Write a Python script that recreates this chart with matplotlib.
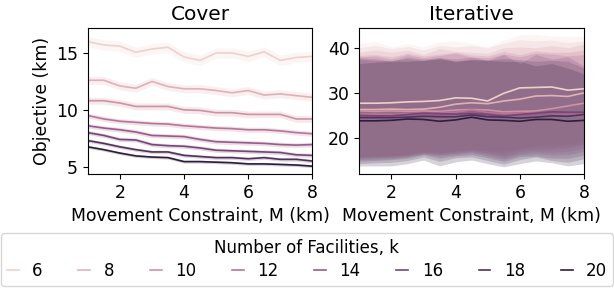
import numpy as np
import matplotlib
matplotlib.use('Agg')
import matplotlib.pyplot as plt

# data
M = [1.0, 1.5, 2.0, 2.5, 3.0, 3.5, 4.0, 4.5, 5.0, 5.5, 6.0, 6.5, 7.0, 7.5, 8.0]
K = [6, 8, 10, 12, 14, 16, 18, 20]

cover_mean = {
    6:  [16.0, 15.7, 15.6, 15.06, 15.35, 15.5, 14.65, 14.35, 15.0, 15.0, 14.7, 15.1, 14.35, 14.6, 14.7],
    8:  [12.6, 12.6, 12.1, 11.9, 12.5, 12.05, 11.85, 11.85, 11.7, 11.5, 11.7, 11.3, 11.4, 11.25, 11.1],
    10: [10.8, 10.8, 10.6, 10.3, 10.3, 10.3, 10.0, 9.95, 9.75, 9.75, 9.6, 9.6, 9.6, 9.2, 9.2],
    12: [9.5, 9.2, 9.0, 8.9, 8.8, 8.75, 8.6, 8.5, 8.4, 8.35, 8.25, 8.25, 8.15, 8.0, 7.9],
    14: [8.6, 8.4, 8.25, 8.05, 7.75, 7.7, 7.65, 7.4, 7.2, 7.15, 7.1, 7.05, 6.95, 6.9, 6.95],
    16: [8.0, 7.75, 7.4, 7.35, 6.95, 6.85, 6.8, 6.65, 6.45, 6.4, 6.35, 6.3, 6.25, 6.05, 6.0],
    18: [7.3, 7.05, 6.75, 6.5, 6.3, 6.3, 6.0, 5.9, 5.8, 5.8, 5.7, 5.8, 5.65, 5.65, 5.5],
    20: [6.75, 6.5, 6.2, 5.95, 5.85, 5.8, 5.45, 5.45, 5.4, 5.35, 5.25, 5.25, 5.2, 5.15, 5.05],
}
# half width of the confidence band, per k
cover_ci = {6: 0.45, 8: 0.35, 10: 0.3, 12: 0.22, 14: 0.2, 16: 0.18, 18: 0.15, 20: 0.13}

iter_mean = {
    6:  [27.7, 27.7, 27.8, 28.0, 28.1, 28.3, 28.9, 28.8, 28.2, 29.9, 31.1, 31.2, 31.3, 30.6, 30.9],
    8:  [26.3, 26.3, 26.4, 26.3, 26.4, 26.8, 27.5, 27.8, 27.6, 28.2, 28.6, 29.3, 29.4, 29.2, 30.0],
    10: [26.0, 25.9, 26.0, 25.9, 26.0, 25.9, 26.2, 26.3, 26.2, 25.8, 25.9, 26.0, 26.5, 27.1, 27.7],
    12: [25.3, 25.3, 25.2, 25.4, 25.5, 25.6, 25.7, 26.2, 25.6, 25.4, 25.5, 25.6, 25.6, 25.5, 25.3],
    14: [24.8, 24.8, 24.9, 25.0, 25.2, 25.1, 25.3, 25.8, 25.3, 25.0, 25.0, 25.3, 25.6, 25.6, 25.6],
    16: [25.0, 24.9, 24.9, 25.2, 25.5, 25.4, 25.3, 25.4, 25.2, 24.8, 25.2, 25.5, 25.8, 25.7, 25.7],
    18: [24.5, 24.5, 24.5, 24.6, 24.8, 24.7, 24.7, 25.1, 24.7, 24.6, 24.4, 24.6, 24.9, 24.8, 25.2],
    20: [23.8, 23.8, 23.9, 24.2, 24.1, 23.7, 24.0, 24.6, 24.0, 23.9, 23.7, 24.1, 24.1, 23.7, 23.9],
}
iter_hi = {
    6:  [41.0, 41.3, 40.2, 40.9, 40.2, 41.3, 41.5, 41.0, 40.2, 41.7, 42.9, 42.9, 42.6, 42.6, 42.5],
    8:  [40.0, 40.5, 39.8, 40.3, 39.5, 40.5, 40.2, 40.5, 40.0, 41.0, 41.8, 41.5, 41.7, 41.2, 41.5],
    10: [39.0, 39.5, 39.0, 39.5, 38.5, 39.8, 39.2, 39.0, 38.8, 40.0, 40.2, 40.0, 40.5, 40.0, 40.8],
    12: [38.3, 38.5, 38.0, 38.8, 38.2, 38.6, 39.0, 38.4, 38.2, 39.2, 38.5, 39.3, 39.0, 39.0, 39.5],
    14: [38.0, 38.2, 37.5, 38.5, 37.8, 38.3, 38.8, 37.9, 37.8, 38.6, 38.0, 38.8, 38.6, 38.2, 38.5],
    16: [37.8, 37.6, 37.0, 38.0, 37.5, 37.8, 37.5, 38.0, 37.2, 38.5, 36.5, 38.5, 37.5, 38.0, 36.0],
    18: [37.5, 37.2, 37.2, 37.6, 37.2, 37.8, 37.0, 37.5, 37.3, 37.6, 37.4, 37.0, 37.2, 37.0, 35.5],
    20: [36.5, 36.8, 37.0, 37.0, 37.2, 37.5, 37.0, 37.3, 37.2, 37.0, 37.0, 36.0, 36.5, 35.5, 34.2],
}
iter_lo = {
    6:  [16.0, 16.0, 16.1, 16.4, 17.0, 16.9, 17.2, 17.6, 17.2, 17.2, 18.0, 18.4, 18.6, 18.8, 19.0],
    8:  [15.8, 15.9, 16.0, 16.3, 16.9, 16.7, 17.0, 17.4, 17.0, 16.7, 17.5, 17.9, 18.0, 18.3, 18.8],
    10: [15.7, 15.8, 15.9, 16.2, 16.8, 16.5, 16.8, 17.2, 16.7, 16.2, 17.0, 17.4, 17.4, 17.8, 18.6],
    12: [15.5, 15.6, 15.7, 16.0, 16.6, 16.3, 16.6, 17.0, 16.4, 15.8, 16.6, 17.0, 16.8, 17.0, 17.8],
    14: [15.2, 15.3, 15.4, 15.8, 16.4, 16.0, 16.3, 16.7, 16.0, 15.3, 16.2, 16.5, 16.2, 16.3, 17.0],
    16: [14.8, 15.0, 15.2, 15.5, 16.3, 15.5, 16.0, 16.3, 15.6, 14.8, 15.8, 16.0, 15.5, 15.5, 16.2],
    18: [14.3, 14.5, 14.6, 15.0, 15.8, 14.8, 15.6, 15.8, 15.0, 14.2, 15.2, 15.8, 15.0, 14.6, 15.4],
    20: [13.8, 13.8, 13.8, 14.3, 15.1, 13.8, 14.7, 15.1, 14.3, 13.6, 14.3, 14.9, 14.5, 13.8, 14.3],
}


# seaborn-like default cubehelix ramp (light -> dark)
def ch_color(t, start=0.0, rot=0.4, gamma=1.0, hue=0.8, light=0.85, dark=0.15):
    x = light + (dark - light) * t
    xg = x ** gamma
    a = hue * xg * (1 - xg) / 2
    phi = 2 * np.pi * (start / 3 + rot * x)
    r = xg + a * (-0.14861 * np.cos(phi) + 1.78277 * np.sin(phi))
    g = xg + a * (-0.29227 * np.cos(phi) - 0.90649 * np.sin(phi))
    b = xg + a * (1.97294 * np.cos(phi))
    return tuple(np.clip([r, g, b], 0, 1))


colors = {k: ch_color((k - K[0]) / (K[-1] - K[0])) for k in K}

fig, ax = plt.subplots(1, 2, figsize=(6.14, 2.91), dpi=100)
plt.subplots_adjust(left=0.143, right=0.951, top=0.904, bottom=0.402, wspace=0.21)

for k in K:
    m = np.array(cover_mean[k])
    ax[0].fill_between(M, m - cover_ci[k], m + cover_ci[k], color=colors[k], alpha=0.2, linewidth=0)
    ax[0].plot(M, m, color=colors[k], lw=1.2, label=str(k))

    ax[1].fill_between(M, iter_lo[k], iter_hi[k], color=colors[k], alpha=0.2, linewidth=0)
    ax[1].plot(M, iter_mean[k], color=colors[k], lw=1.2)

ax[0].set_title('Cover', fontsize=14.5)
ax[1].set_title('Iterative', fontsize=14.5)
ax[0].set_ylabel('Objective (km)', fontsize=12.4)
ax[0].set_ylim(4.36, 17.2)
ax[0].set_yticks([5, 10, 15])
ax[1].set_ylim(12.0, 44.4)
ax[1].set_yticks([20, 30, 40])

for a in ax:
    a.set_xlim(1, 8)
    a.set_xticks([2, 4, 6, 8])
    a.set_xlabel('Movement Constraint, M (km)', fontsize=12.4)
    a.tick_params(labelsize=12.4)

handles, labels = ax[0].get_legend_handles_labels()
fig.legend(handles, labels, loc='lower center', bbox_to_anchor=(0.5, -0.012), ncol=8,
           title='Number of Facilities, k', fontsize=12, title_fontsize=12,
           handlelength=0.71, columnspacing=2.15, handletextpad=0.8,
           borderpad=0.35, labelspacing=0.3)

fig.savefig('out.png', dpi=100)
